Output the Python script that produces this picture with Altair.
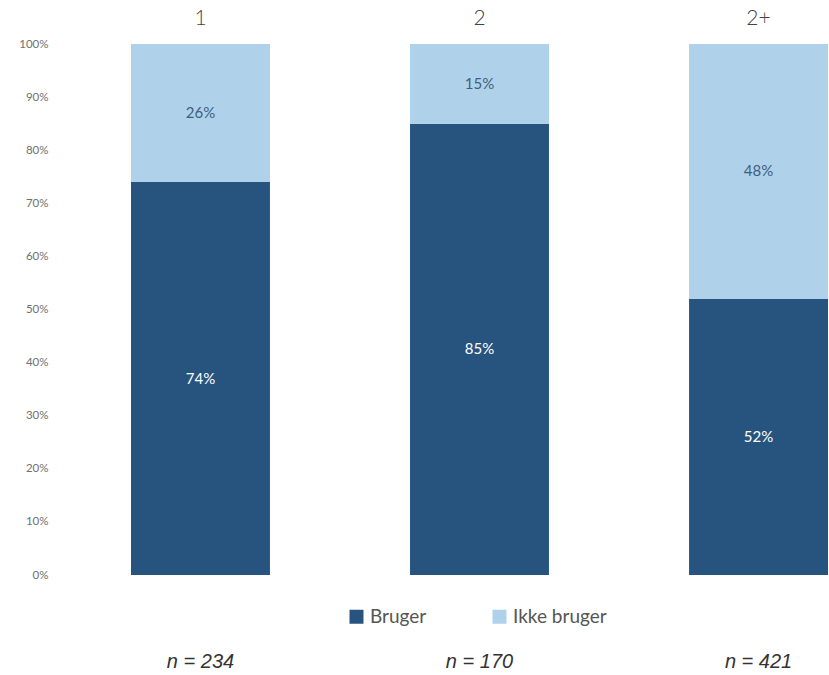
import altair as alt
import pandas as pd

# Share of users per group (percent)
groups = ["1", "2", "2+"]
bruger = [74, 85, 52]
ikke_bruger = [26, 15, 48]
sample_sizes = [234, 170, 421]
series = ["Bruger", "Ikke bruger"]
bar_colors = ["#27547F", "#AFD2EA"]
label_colors = ["#FFFFFF", "#3E5E80"]

rows = []
for g, b, ib in zip(groups, bruger, ikke_bruger):
    rows.append({"gruppe": g, "status": "Bruger", "andel": b, "orden": 0})
    rows.append({"gruppe": g, "status": "Ikke bruger", "andel": ib, "orden": 1})
df = pd.DataFrame(rows)

# "n = ..." labels under each group, built as a label expression
n_expr = "''"
for g, n in zip(reversed(groups), reversed(sample_sizes)):
    n_expr = f"datum.label == '{g}' ? 'n = {n}' : ({n_expr})"

x_scale = alt.Scale(domain=groups, paddingInner=0.502, paddingOuter=0)
y_scale = alt.Scale(domain=[0, 100])

base = (
    alt.Chart(df)
    .transform_stack(
        stack="andel",
        groupby=["gruppe"],
        as_=["y0", "y1"],
        sort=[alt.SortField("orden", order="ascending")],
    )
    .transform_calculate(mid="(datum.y0 + datum.y1) / 2", lbl="datum.andel + '%'")
)

bars = base.mark_bar().encode(
    x=alt.X(
        "gruppe:N",
        scale=x_scale,
        axis=alt.Axis(
            orient="top",
            title=None,
            labelAngle=0,
            labelFontSize=21,
            labelFont="Lato",
            labelFontWeight=300,
            labelColor="#444444",
            labelPadding=16,
            domain=False,
            ticks=False,
        ),
    ),
    y=alt.Y(
        "y0:Q",
        scale=y_scale,
        axis=alt.Axis(
            title=None,
            values=list(range(0, 101, 10)),
            labelExpr="datum.value + '%'",
            labelFontSize=11.5,
            labelFont="Lato",
            labelColor="#707070",
            labelPadding=83,
            domain=False,
            ticks=False,
            grid=False,
        ),
    ),
    y2="y1:Q",
    color=alt.Color(
        "status:N",
        scale=alt.Scale(domain=series, range=bar_colors),
        legend=alt.Legend(
            title=None,
            orient="none",
            direction="horizontal",
            legendX=216,
            legendY=563,
            padding=0,
            symbolType="square",
            symbolSize=196,
            symbolStrokeWidth=0,
            symbolOpacity=1,
            labelFontSize=19,
            labelFont="Lato",
            labelColor="#555555",
            labelOffset=4,
            columnPadding=63,
        ),
    ),
)

labels = base.mark_text(font="Lato", fontSize=15).encode(
    x=alt.X(
        "gruppe:N",
        scale=x_scale,
        axis=alt.Axis(
            orient="bottom",
            title=None,
            labelAngle=0,
            labelExpr=n_expr,
            labelFontSize=20,
            labelFont="Liberation Sans",
            labelFontStyle="italic",
            labelColor="#333333",
            labelPadding=76,
            domain=False,
            ticks=False,
        ),
    ),
    y=alt.Y("mid:Q", scale=y_scale),
    text="lbl:N",
    color=alt.Color(
        "status:N",
        scale=alt.Scale(domain=series, range=label_colors),
        legend=None,
    ),
)

chart = (
    alt.layer(bars, labels)
    .resolve_scale(color="independent")
    .resolve_axis(x="independent")
    .properties(
        width=697,
        height=531,
        background="#FFFFFF",
        padding={"left": 131, "top": 44, "right": 0, "bottom": 100},
        autosize=alt.AutoSizeParams(type="none"),
    )
    .configure_view(stroke=None)
)

chart.save("out.html", embed_options={"renderer": "svg", "actions": False})
